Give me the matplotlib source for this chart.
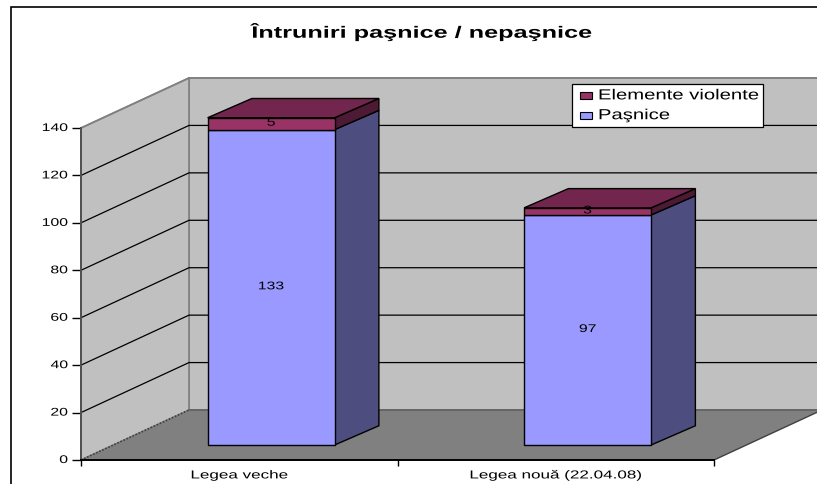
import matplotlib
matplotlib.use("Agg")
import matplotlib.pyplot as plt
from matplotlib.patches import Polygon, Patch, Rectangle
from matplotlib.patheffects import AbstractPathEffect
from matplotlib.transforms import Affine2D
from matplotlib.legend_handler import HandlerPatch

W, H = 817, 484
title = "Întruniri paşnice / nepaşnice"
categories = ["Legea veche", "Legea nouă (22.04.08)"]
pasnice = [133, 97]
violente = [5, 3]
series_names = ["Elemente violente", "Paşnice"]
y_ticks = [0, 20, 40, 60, 80, 100, 120, 140]

FONT = "Liberation Sans"
C_WALL, C_FLOOR = "#C0C0C0", "#808080"
C_P, C_P_SIDE = "#9999FF", "#4D4D80"
C_V, C_V_TOP, C_V_SIDE = "#993366", "#73264D", "#4D1A33"


class Widen(AbstractPathEffect):
    """The reference's text is stretched sideways; widen a Text about its anchor."""

    def __init__(self, text, sx, dy=0):
        super().__init__()
        self.text, self.sx, self.dy = text, sx, dy

    def draw_path(self, renderer, gc, tpath, affine, rgbFace=None):
        x0 = self.text.get_transform().transform(self.text.get_position())[0]
        stretch = Affine2D().translate(-x0, 0).scale(self.sx, 1).translate(x0, self.dy)
        renderer.draw_path(gc, tpath, affine + stretch, rgbFace)


def widen(text, sx, dy=0):
    text.set_path_effects([Widen(text, sx, dy)])


fig = plt.figure(figsize=(W / 100, H / 100), dpi=100, facecolor="white")
ax = fig.add_axes([81 / W, (H - 460) / H, 633 / W, 332 / H])
ax.set_xlim(0, 2)
ax.set_ylim(0, 140)
ax.patch.set_visible(False)
for s in ax.spines.values():
    s.set_visible(False)

# depth vector of the box, in data units
DX = 108 / (633 / 2)
DY = 50 / (332 / 140)
YMAX = y_ticks[-1]
N = len(categories)


def poly(pts, fc, ec="none", lw=0.0, z=1, ls="-"):
    ax.add_patch(Polygon(pts, closed=True, facecolor=fc, edgecolor=ec, linewidth=lw,
                         zorder=z, clip_on=False, linestyle=ls, joinstyle="miter"))


# walls and floor
poly([(DX, DY), (N + DX, DY), (N + DX, YMAX + DY), (DX, YMAX + DY)], C_WALL, C_FLOOR, 1.2, 1)
poly([(0, 0), (DX, DY), (DX, YMAX + DY), (0, YMAX)], C_WALL, C_FLOOR, 1.2, 1)
poly([(0, 0), (N, 0), (N + DX, DY), (DX, DY)], C_FLOOR, "none", 0, 2)
ax.plot([N, N + DX], [0, DY], color="#404040", lw=1, zorder=2.1, clip_on=False)
ax.plot([0, DX], [0, DY], color="#404040", lw=1.2, ls=(0, (1, 1)), zorder=2.1, clip_on=False)
ax.plot([DX, N + DX], [DY, DY], color="#606060", lw=1.2, zorder=2.1, clip_on=False)

# gridlines
for t in y_ticks[1:-1]:
    ax.plot([0, DX, N + DX], [t, t + DY, t + DY], color="black", lw=0.9, zorder=1.5, clip_on=False)
ax.plot([DX, N + DX], [YMAX + DY, YMAX + DY], color=C_FLOOR, lw=1.2, zorder=1.5, clip_on=False)
ax.plot([0, DX], [YMAX, YMAX + DY], color=C_FLOOR, lw=1.2, zorder=1.5, clip_on=False)
ax.plot([0, 0], [0, YMAX], color="#505050", lw=1.4, zorder=2.2, clip_on=False)
ax.plot([0, N], [0, 0], color="black", lw=1.4, zorder=5, clip_on=False)

# bars
BAR_W = 127 / (633 / 2)
F0X, F0Y = 0.295, 0.30   # front of the bar, as fractions of the depth
DEPTH_X, DEPTH_Y = 0.41, 0.385  # depth of the bar, as fractions of the depth
EC = "black"
for i, (p, v) in enumerate(zip(pasnice, violente)):
    xl = i + 0.5 - BAR_W / 2 + F0X * DX
    xr = xl + BAR_W
    y0 = F0Y * DY
    ddx, ddy = DEPTH_X * DX, DEPTH_Y * DY
    for bot, h, front, side in [(y0, p, C_P, C_P_SIDE), (y0 + p, v, C_V, C_V_SIDE)]:
        poly([(xr, bot), (xr + ddx, bot + ddy), (xr + ddx, bot + h + ddy), (xr, bot + h)],
             side, EC, 1.0, 3)
        poly([(xl, bot), (xr, bot), (xr, bot + h), (xl, bot + h)], front, EC, 1.0, 3)
    top = y0 + p + v
    poly([(xl, top), (xr, top), (xr + ddx, top + ddy), (xl + ddx, top + ddy)], C_V_TOP, EC, 1.0, 3)
    for yy, val in [(y0 + p / 2, p), (y0 + p + v / 2, v)]:
        widen(ax.text((xl + xr) / 2, yy, str(val), ha="center", va="center",
                      fontsize=8, family=FONT, zorder=4), 1.42, 1)

# axes
ax.set_yticks(y_ticks)
ax.set_xticks(range(N + 1))
ax.set_xticklabels([])
ax.set_xticks([i + 0.5 for i in range(N)], labels=categories, minor=True)
ax.tick_params(axis="y", length=6.5, width=1, pad=2.9, labelsize=8)
ax.tick_params(axis="x", which="major", length=4.5, width=1)
ax.tick_params(axis="x", which="minor", length=0, pad=7.5, labelsize=8.3)
for lab in ax.get_yticklabels():
    lab.set_fontfamily(FONT)
    widen(lab, 1.42, 1)
for lab in ax.get_xticklabels(minor=True):
    lab.set_fontfamily(FONT)
    widen(lab, 1.48, 1)

widen(ax.set_title(title, x=(421 - 81) / 633, y=1.0, pad=65, fontsize=11.8,
                   fontweight="bold", family=FONT, color="black"), 1.54)


def small_box(legend, orig_handle, xdescent, ydescent, width, height, fontsize):
    # handle-box units are points
    return Rectangle((width - 8.6, 0.5), 8.6, 5)


handles = [Patch(facecolor=C_V, edgecolor="black", linewidth=0.8),
           Patch(facecolor=C_P, edgecolor="black", linewidth=0.8)]
leg = ax.legend(handles, series_names, loc="upper left", mode="expand",
                bbox_to_anchor=(572 / W, (H - 125) / H, 191 / W, 41 / H),
                bbox_transform=fig.transFigure,
                fancybox=False, framealpha=1, edgecolor="black", facecolor="white",
                handlelength=1.07, handleheight=0.7, handletextpad=0.41,
                labelspacing=0.4, borderpad=0.3, borderaxespad=0,
                handler_map={Patch: HandlerPatch(patch_func=small_box)},
                prop={"family": FONT, "size": 10.5})
leg.get_frame().set_linewidth(0.9)
leg.set_zorder(6)
for t in leg.get_texts():
    widen(t, 1.39)

# chart-area frame, cut by the picture on the right and at the bottom
fig.add_artist(Rectangle((11 / W, -0.1), 1, (H - 7.5) / H + 0.1, transform=fig.transFigure,
                         facecolor="none", edgecolor="black", linewidth=1.2))

fig.savefig("out.png", dpi=100, facecolor="white")
